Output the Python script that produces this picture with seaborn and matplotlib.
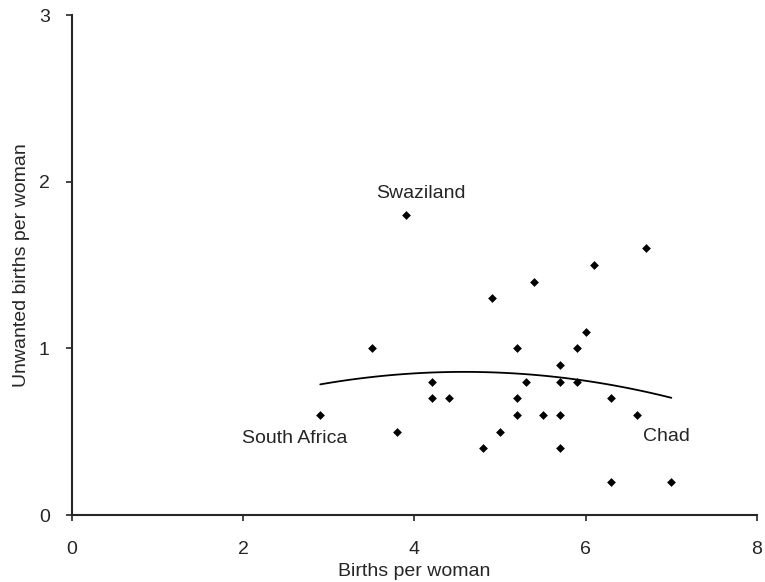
import numpy as np
import pandas as pd
import seaborn as sns
import matplotlib.pyplot as plt

# Dados
births = [2.9, 3.5, 3.8, 3.9, 4.2, 4.2, 4.4, 4.8, 4.9, 5.0,
          5.2, 5.2, 5.2, 5.3, 5.4, 5.5, 5.7, 5.7, 5.7, 5.7,
          5.9, 5.9, 6.0, 6.1, 6.3, 6.3, 6.6, 6.7, 7.0]
unwanted = [0.6, 1.0, 0.5, 1.8, 0.8, 0.7, 0.7, 0.4, 1.3, 0.5,
            1.0, 0.7, 0.6, 0.8, 1.4, 0.6, 0.9, 0.8, 0.6, 0.4,
            1.0, 0.8, 1.1, 1.5, 0.7, 0.2, 0.6, 1.6, 0.2]
labels = {'Swaziland': (4.07, 1.93), 'South Africa': (2.6, 0.46), 'Chad': (6.94, 0.47)}

df = pd.DataFrame({'Births': births, 'Unwanted': unwanted})

sns.set_style('ticks')
plt.rcParams['font.family'] = ['Liberation Sans', 'DejaVu Sans']

fig = plt.figure(figsize=(7.65, 5.82), dpi=100)
ax = fig.add_axes([0.094, 0.115, 0.8955, 0.859])

sns.scatterplot(data=df, x='Births', y='Unwanted', marker='D', s=20,
                color='black', edgecolor='black', linewidth=0, ax=ax)
sns.regplot(data=df, x='Births', y='Unwanted', order=2, ci=None, scatter=False,
            color='black', line_kws={'linewidth': 1.3}, ax=ax)

for nome, (lx, ly) in labels.items():
    ax.text(lx, ly, nome, ha='center', va='center', fontsize=14)

ax.set_xlim(0, 8)
ax.set_ylim(0, 3)
ax.set_xticks([0, 2, 4, 6, 8])
ax.set_yticks([0, 1, 2, 3])
ax.tick_params(labelsize=14, length=4, width=1.2, direction='out')
ax.tick_params(axis='x', pad=15)
ax.tick_params(axis='y', pad=12)
ax.set_xlabel('Births per woman', fontsize=14, labelpad=3)
ax.set_ylabel('Unwanted births per woman', fontsize=14, labelpad=6)
sns.despine(ax=ax)
for s in ['left', 'bottom']:
    ax.spines[s].set_linewidth(1.5)

fig.savefig('out.png', dpi=100)
